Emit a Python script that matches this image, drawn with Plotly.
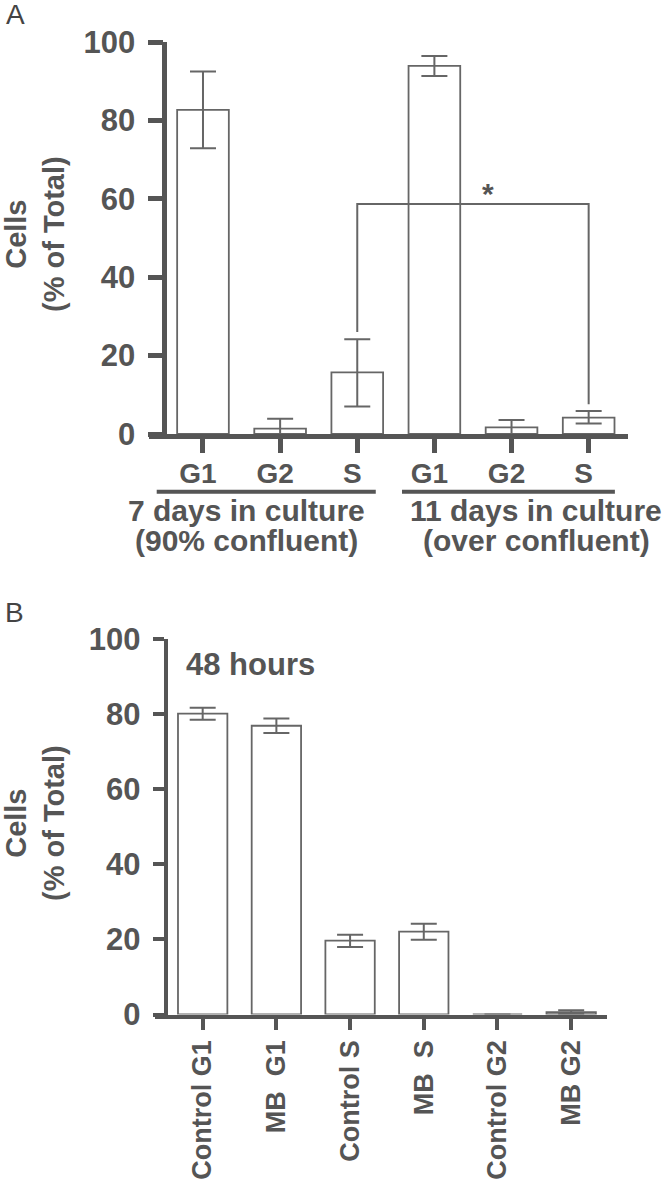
import plotly.graph_objects as go

# Panel A: cell-cycle distribution after 7 / 11 days in culture
phases_a = ["G1", "G2", "S", "G1", "G2", "S"]
cells_a = [82.7, 1.35, 15.7, 93.9, 1.7, 4.2]
err_up_a = [9.8, 2.55, 8.5, 2.5, 1.86, 1.65]
err_dn_a = [9.8, 1.35, 8.7, 2.6, 1.7, 1.5]
groups_a = [("7 days in culture", "(90% confluent)"), ("11 days in culture", "(over confluent)")]

# significance bracket between S (7 d) and S (11 d)
sig_pair = [2, 5]
sig_y = 58.7
sig_drop = [26.0, 7.6]

# Panel B: 48 hours, control vs MB
labels_b = ["Control G1", "MB\u00a0 G1", "Control S", "MB\u00a0 S", "Control G2", "MB G2"]
cells_b = [80.1, 76.9, 19.65, 22.05, 0.0, 0.6]
err_up_b = [1.6, 1.9, 1.6, 2.15, 0.0, 0.5]
err_dn_b = [1.6, 1.9, 1.65, 2.15, 0.0, 0.5]

y_ticks = [0, 20, 40, 60, 80, 100]

W, H = 668, 1185
AXIS = "#555555"
EDGE = "#666666"
FONT = "Liberation Sans, Arial, sans-serif"


def px_x(p):
    return p / W


def px_y(p):
    return 1 - p / H


fig = go.Figure()

bar_style = dict(
    marker=dict(color="white", line=dict(color=EDGE, width=1.8)),
    width=0.67,
    showlegend=False,
    hoverinfo="skip",
)

fig.add_trace(go.Bar(
    x=list(range(len(cells_a))), y=cells_a,
    error_y=dict(type="data", array=err_up_a, arrayminus=err_dn_a,
                 color=EDGE, thickness=2, width=13),
    xaxis="x", yaxis="y", **bar_style))

fig.add_trace(go.Bar(
    x=list(range(len(cells_b))), y=cells_b,
    error_y=dict(type="data", array=err_up_b, arrayminus=err_dn_b,
                 color=EDGE, thickness=2, width=13),
    xaxis="x2", yaxis="y2", **bar_style))

tick_font = dict(family=FONT, size=31, color=AXIS, weight="bold")
lab_font = dict(family=FONT, size=28, color=AXIS, weight="bold")
rot_font = dict(family=FONT, size=27, color=AXIS, weight="bold")

common = dict(showgrid=False, zeroline=False, fixedrange=True, automargin=False,
              showline=True, linecolor=AXIS, ticks="outside", tickcolor=AXIS,
              tickmode="array")

fig.update_layout(
    width=W, height=H,
    margin=dict(l=0, r=0, t=0, b=0, autoexpand=False),
    paper_bgcolor="white", plot_bgcolor="white",
    # panel A
    xaxis=dict(domain=[px_x(149), px_x(628)], range=[-0.70, 5.51], anchor="y",
               tickvals=list(range(6)), ticktext=phases_a,
               linewidth=4.5, ticklen=14, tickwidth=4.5,
               tickfont=lab_font, ticklabelstandoff=-3, ticklabelshift=-5, **common),
    yaxis=dict(domain=[px_y(434), px_y(42)], range=[0, 100],
               anchor="free", position=px_x(164.3), tickvals=y_ticks,
               linewidth=4.5, ticklen=15, tickwidth=4.5,
               tickfont=tick_font, ticklabelstandoff=6, **common),
    # panel B
    xaxis2=dict(domain=[px_x(155), px_x(607)], range=[-0.647, 5.486], anchor="y2",
                tickvals=list(range(6)), ticktext=labels_b, tickangle=-90,
                linewidth=4, ticklen=11, tickwidth=4,
                tickfont=rot_font, ticklabelstandoff=0, **common),
    yaxis2=dict(domain=[px_y(1014.5), px_y(639)], range=[0, 100],
                anchor="free", position=px_x(165.7), tickvals=y_ticks,
                linewidth=4, ticklen=11, tickwidth=4,
                tickfont=tick_font, ticklabelstandoff=6, **common),
)

# significance bracket
fig.add_shape(type="path", xref="x", yref="y",
              path=f"M {sig_pair[0]} {sig_drop[0]} L {sig_pair[0]} {sig_y} "
                   f"L {sig_pair[1]} {sig_y} L {sig_pair[1]} {sig_drop[1]}",
              line=dict(color=EDGE, width=2))
fig.add_annotation(x=(sig_pair[0] + sig_pair[1]) / 2 + 0.2, y=sig_y, xref="x", yref="y",
                   text="*", showarrow=False, yanchor="bottom", yshift=-8,
                   font=dict(family=FONT, size=30, color=AXIS, weight="bold"))

# group underlines and labels under panel A
group_spans = [(-0.60, 2.24), (2.58, 5.34)]
group_centers = [0.564, 4.32]
for (x0, x1), xc, (line1, line2) in zip(group_spans, group_centers, groups_a):
    fig.add_shape(type="line", xref="x", yref="paper", x0=x0, x1=x1,
                  y0=px_y(491.7), y1=px_y(491.7), line=dict(color=AXIS, width=4))
    fig.add_annotation(x=xc, y=px_y(511), xref="x", yref="paper", text=line1,
                       showarrow=False, yanchor="middle",
                       font=dict(family=FONT, size=30, color=AXIS, weight="bold"))
    fig.add_annotation(x=xc, y=px_y(540), xref="x", yref="paper", text=line2,
                       showarrow=False, yanchor="middle",
                       font=dict(family=FONT, size=30, color=AXIS, weight="bold"))

# y-axis titles
for yc in [234, 823]:
    fig.add_annotation(x=px_x(35), y=px_y(yc), xref="paper", yref="paper",
                       text="Cells<br>(% of Total)", textangle=-90, showarrow=False,
                       xanchor="center", yanchor="middle",
                       font=dict(family=FONT, size=29, color=AXIS, weight="bold"))

# "48 hours" label in panel B
fig.add_annotation(x=px_x(250), y=px_y(664.5), xref="paper", yref="paper",
                   text="48 hours", showarrow=False, xanchor="center", yanchor="middle",
                   font=dict(family=FONT, size=31, color=AXIS, weight="bold"))

# panel letters
fig.add_annotation(x=px_x(4), y=px_y(0), xref="paper", yref="paper", text="A",
                   showarrow=False, xanchor="left", yanchor="top", yshift=3,
                   font=dict(family=FONT, size=28, color="#444444"))
fig.add_annotation(x=px_x(3), y=px_y(598), xref="paper", yref="paper", text="B",
                   showarrow=False, xanchor="left", yanchor="top", yshift=3,
                   font=dict(family=FONT, size=28, color="#444444"))

# page body has a default 8px margin; remove it so the figure sits at the origin
fig.write_html("out.html", config={"displayModeBar": False},
               post_script="document.body.style.margin='0px';")
